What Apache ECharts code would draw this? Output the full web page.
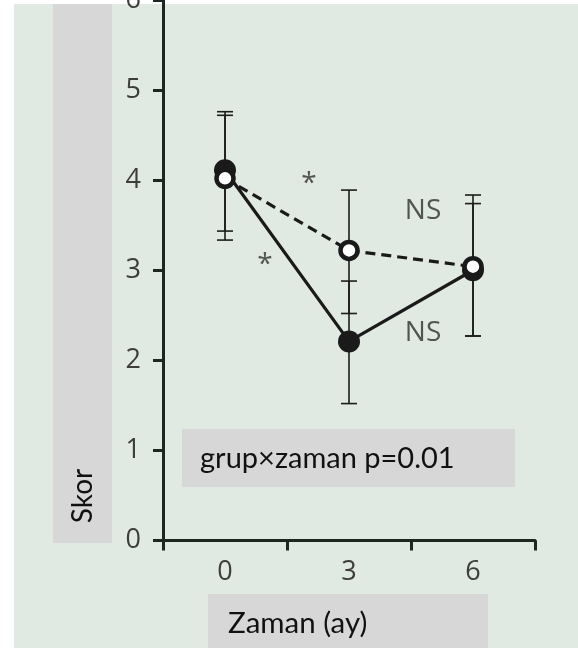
<!DOCTYPE html>
<html>
<head>
<meta charset="utf-8">
<title>Skor</title>
<script src="https://cdn.jsdelivr.net/npm/echarts@6/dist/echarts.min.js"></script>
<style>
    html, body { margin: 0; padding: 0; background: #ffffff; }
    #chart { width: 578px; height: 648px; }
</style>
</head>
<body>
<div id="chart"></div>
<script>
var months = ['0', '3', '6'];
var yTicks = [0, 1, 2, 3, 4, 5, 6];

// group drawn with filled circles and solid line
var solidMean = [4.11, 2.21, 3.0];
var solidHigh = [4.76, 2.88, 3.74];
var solidLow = [3.435, 1.52, 2.27];

// group drawn with open circles and dashed line
var dashedMean = [4.02, 3.22, 3.04];
var dashedHigh = [4.72, 3.89, 3.835];
var dashedLow = [3.335, 2.52, 2.27];

// significance marks: [x position in category units, y value, text]
var marks = [
    [0.677, 3.96, '*'],
    [0.323, 3.06, '*'],
    [1.597, 3.66, 'NS'],
    [1.597, 2.30, 'NS']
];

var noteText = 'grup×zaman p=0.01';
var xName = 'Zaman (ay)';
var yName = 'Skor';

(function () {
    'use strict';

    var myChart = echarts.init(document.getElementById('chart'));

    function errorData(low, high) {
        var out = [];
        for (var i = 0; i < low.length; i++) {
            out.push([i, low[i], high[i]]);
        }
        return out;
    }

    function renderErrorBar(params, api) {
        var x = api.value(0);
        var lo = api.coord([x, api.value(1)]);
        var hi = api.coord([x, api.value(2)]);
        var half = 8;
        var style = { stroke: '#1c1c1c', lineWidth: 1.6 };
        return {
            type: 'group',
            children: [
                { type: 'line', shape: { x1: lo[0], y1: lo[1], x2: hi[0], y2: hi[1] }, style: style },
                { type: 'line', shape: { x1: hi[0] - half, y1: hi[1], x2: hi[0] + half, y2: hi[1] }, style: style },
                { type: 'line', shape: { x1: lo[0] - half, y1: lo[1], x2: lo[0] + half, y2: lo[1] }, style: style }
            ]
        };
    }

    var markData = [];
    for (var m = 0; m < marks.length; m++) {
        markData.push({ name: marks[m][2], value: [marks[m][0], marks[m][1]] });
    }

    var labelFont = "'Open Sans', 'Noto Sans', sans-serif";
    var boxFont = "Lato, 'Open Sans', sans-serif";

    myChart.setOption({
        animation: false,
        backgroundColor: '#ffffff',
        graphic: [
            { type: 'rect', z: -20, shape: { x: 14, y: 4, width: 564, height: 644 }, style: { fill: '#e1eae2' } },
            { type: 'rect', z: -10, shape: { x: 53, y: 4, width: 59, height: 539 }, style: { fill: '#d7d7d7' } },
            { type: 'rect', z: -10, shape: { x: 182, y: 429, width: 333, height: 58 }, style: { fill: '#d7d7d7' } },
            { type: 'rect', z: -10, shape: { x: 208, y: 594, width: 280, height: 54 }, style: { fill: '#d7d7d7' } },
            {
                type: 'text', z: 10, x: 200, y: 459,
                style: { text: noteText, font: '29px ' + boxFont, fill: '#111111', verticalAlign: 'middle', align: 'left' }
            },
            {
                type: 'text', z: 10, x: 228, y: 623,
                style: { text: xName, font: '29.5px ' + boxFont, fill: '#111111', verticalAlign: 'middle', align: 'left' }
            },
            {
                type: 'text', z: 10, x: 83, y: 496, rotation: Math.PI / 2,
                style: { text: yName, font: '28px ' + boxFont, fill: '#111111', verticalAlign: 'middle', align: 'center' }
            }
        ],
        grid: {
            left: 163,
            right: 43,
            top: 0,
            bottom: 107.5,
            containLabel: false,
            outerBoundsMode: 'none'
        },
        xAxis: [{
            type: 'category',
            data: months,
            boundaryGap: true,
            axisLine: { onZero: false, lineStyle: { color: '#1d261f', width: 3 } },
            axisTick: { show: true, length: 10, lineStyle: { color: '#1d261f', width: 3 } },
            axisLabel: { color: '#3d3d3d', fontSize: 27, fontFamily: labelFont, margin: 18 },
            splitLine: { show: false }
        }, {
            type: 'value',
            min: -0.5,
            max: 2.5,
            show: false
        }],
        yAxis: {
            type: 'value',
            min: yTicks[0],
            max: yTicks[yTicks.length - 1],
            interval: 1,
            axisLine: { show: true, onZero: false, lineStyle: { color: '#1d261f', width: 3 } },
            axisTick: { show: true, length: 10, lineStyle: { color: '#1d261f', width: 3 } },
            axisLabel: { color: '#3d3d3d', fontSize: 27, fontFamily: labelFont, margin: 22 },
            splitLine: { show: false }
        },
        series: [{
            type: 'custom',
            name: 'err-solid',
            xAxisIndex: 0,
            renderItem: renderErrorBar,
            data: errorData(solidLow, solidHigh),
            z: 1
        }, {
            type: 'custom',
            name: 'err-dashed',
            xAxisIndex: 0,
            renderItem: renderErrorBar,
            data: errorData(dashedLow, dashedHigh),
            z: 1
        }, {
            type: 'line',
            name: 'solid',
            xAxisIndex: 0,
            data: solidMean,
            symbol: 'circle',
            symbolSize: 22,
            lineStyle: { color: '#1a1a1a', width: 3.2 },
            itemStyle: { color: '#1a1a1a' },
            z: 3
        }, {
            type: 'line',
            name: 'dashed',
            xAxisIndex: 0,
            data: dashedMean,
            symbol: 'circle',
            symbolSize: 17,
            lineStyle: { color: '#1a1a1a', width: 3.2, type: [10, 6] },
            itemStyle: { color: '#ffffff', borderColor: '#1a1a1a', borderWidth: 4.5 },
            z: 4
        }, {
            type: 'scatter',
            name: 'marks',
            xAxisIndex: 1,
            data: markData,
            symbolSize: 0,
            label: {
                show: true,
                position: 'inside',
                formatter: '{b}',
                color: '#2e2e2e',
                fontSize: 28,
                fontFamily: labelFont
            },
            z: 5
        }]
    });
}());
</script>
</body>
</html>
